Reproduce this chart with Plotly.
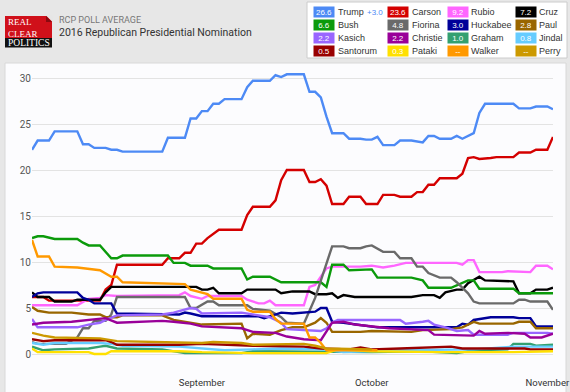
import plotly.graph_objects as go

YEAR = "2015-"

# ---------------- data: (date, value) pairs ----------------
trump = [("08-02",22.2),("08-03",23.2),("08-05",23.2),("08-06",24.2),("08-10",24.2),("08-11",22.8),("08-12",22.8),
         ("08-13",22.4),("08-15",22.4),("08-16",22.2),("08-17",22.2),("08-18",22.0),("08-25",22.0),("08-26",23.5),
         ("08-29",23.5),("08-30",25.6),("08-31",25.6),("09-01",26.4),("09-02",26.4),("09-03",27.2),("09-04",27.2),
         ("09-05",27.7),("09-08",27.7),("09-09",29.0),("09-10",29.7),("09-13",29.7),("09-14",30.3),("09-15",30.1),
         ("09-16",30.4),("09-19",30.4),("09-20",28.5),("09-21",28.5),("09-22",27.9),("09-23",25.8),("09-24",24.0),
         ("09-26",24.0),("09-27",23.4),("09-29",23.4),("09-30",23.3),("10-01",23.3),("10-02",23.6),("10-03",22.7),
         ("10-05",22.7),("10-06",23.2),("10-08",23.2),("10-10",23.0),("10-11",23.7),("10-12",23.7),("10-13",23.4),
         ("10-15",23.4),("10-16",23.7),("10-17",23.4),("10-19",24.0),("10-20",26.2),("10-21",27.2),("10-26",27.2),
         ("10-27",26.7),("10-29",26.7),("10-30",26.9),("11-01",26.9),("11-02",26.6)]
carson = [("08-02",6.2),("08-04",6.2),("08-05",5.8),("08-14",5.8),("08-15",7.0),("08-16",7.5),("08-17",9.7),
          ("08-25",9.7),("08-26",10.4),("08-28",10.4),("08-29",11.0),("08-30",11.0),("08-31",12.0),("09-01",12.0),
          ("09-02",12.6),("09-03",13.1),("09-04",13.5),("09-08",13.5),("09-09",15.1),("09-10",16.0),("09-13",16.0),
          ("09-14",16.7),("09-15",18.9),("09-16",20.0),("09-19",20.0),("09-20",18.7),("09-21",18.7),("09-22",19.0),
          ("09-23",18.3),("09-24",16.3),("09-26",16.3),("09-27",17.1),("09-29",17.1),("09-30",16.3),("10-02",16.3),
          ("10-03",17.3),("10-05",17.3),("10-06",17.1),("10-08",17.1),("10-09",17.6),("10-10",17.6),("10-11",18.4),
          ("10-12",18.4),("10-13",19.1),("10-16",19.1),("10-17",19.6),("10-18",21.3),("10-19",21.4),("10-20",21.2),
          ("10-22",21.3),("10-23",21.4),("10-26",21.4),("10-27",21.9),("10-29",21.9),("10-30",22.2),("11-01",22.2),
          ("11-02",23.6)]
rubio = [("08-02",5.3),("08-10",5.3),("08-12",6.0),("08-14",6.1),("08-15",6.4),("08-17",6.3),("08-28",6.4),
         ("08-29",6.7),("08-30",6.3),("09-01",6.0),("09-02",6.3),("09-08",6.3),("09-09",5.9),("09-11",5.5),
         ("09-12",5.5),("09-13",5.8),("09-14",5.3),("09-19",5.3),("09-20",7.3),("09-21",7.5),("09-22",8.4),
         ("09-23",9.3),("09-24",9.5),("09-29",9.5),("10-01",9.6),("10-03",9.4),("10-05",9.6),("10-07",9.9),
         ("10-16",9.9),("10-17",9.7),("10-18",10.2),("10-19",10.2),("10-20",8.9),("10-24",8.9),("10-25",9.0),
         ("10-29",8.9),("10-30",9.6),("11-01",9.6),("11-02",9.2)]
cruz = [("08-02",6.7),("08-03",6.2),("08-05",6.2),("08-06",5.7),("08-09",5.7),("08-10",5.9),("08-14",5.9),
        ("08-15",6.7),("08-16",7.3),("08-31",7.3),("09-01",7.0),("09-02",7.0),("09-03",7.2),("09-04",6.6),
        ("09-08",6.6),("09-09",7.0),("09-14",7.0),("09-15",6.6),("09-17",6.8),("09-20",6.8),("09-21",6.5),
        ("09-23",6.5),("09-24",6.6),("09-25",6.1),("09-26",6.4),("09-28",6.2),("10-08",6.2),("10-10",6.4),
        ("10-12",6.4),("10-13",6.1),("10-14",6.7),("10-16",7.0),("10-17",7.0),("10-18",7.7),("10-20",8.4),
        ("10-21",8.0),("10-26",7.9),("10-27",6.6),("10-29",6.6),("10-30",7.0),("11-01",7.0),("11-02",7.2)]
bush = [("08-02",12.6),("08-03",12.8),("08-04",12.8),("08-06",12.5),("08-10",12.5),("08-11",12.1),("08-12",11.8),
        ("08-14",11.8),("08-16",10.4),("08-17",10.4),("08-18",10.7),("08-26",10.7),("08-27",9.9),("08-29",9.9),
        ("08-30",9.6),("09-02",9.6),("09-03",9.3),("09-08",9.3),("09-09",8.1),("09-10",8.4),("09-13",8.4),
        ("09-15",7.8),("09-22",7.8),("09-23",7.3),("09-24",9.7),("09-26",9.7),("09-27",9.1),("10-01",9.2),
        ("10-02",8.3),("10-08",8.3),("10-10",8.0),("10-11",7.2),("10-15",7.2),("10-17",7.7),("10-18",8.0),
        ("10-19",8.0),("10-20",7.1),("10-26",7.1),("10-27",6.6),("11-02",6.6)]
fiorina = [("08-02",1.3),("08-03",1.1),("08-08",1.1),("08-10",1.8),("08-11",2.8),("08-12",2.8),("08-13",3.6),
           ("08-15",3.6),("08-16",4.3),("08-17",6.2),("08-29",6.2),("08-30",5.0),("08-31",5.0),("09-02",5.7),
           ("09-03",5.7),("09-04",5.3),("09-09",5.3),("09-10",4.9),("09-13",4.7),("09-15",4.0),("09-16",3.4),
           ("09-19",3.3),("09-21",6.1),("09-23",9.7),("09-24",11.7),("09-26",11.7),("09-27",11.5),("09-29",11.5),
           ("09-30",11.7),("10-01",11.8),("10-03",11.1),("10-05",11.1),("10-06",10.4),("10-08",10.4),("10-09",9.5),
           ("10-10",9.5),("10-11",8.8),("10-13",8.3),("10-15",8.3),("10-16",7.8),("10-18",6.6),("10-19",5.7),
           ("10-20",5.5),("10-26",5.5),("10-27",5.9),("10-28",5.9),("10-29",5.7),("11-01",5.7),("11-02",4.8)]
huckabee = [("08-02",6.2),("08-03",6.6),("08-04",6.7),("08-10",6.7),("08-11",6.1),("08-12",5.9),("08-13",5.5),
            ("08-16",5.5),("08-17",4.4),("08-28",4.3),("08-29",4.5),("08-30",4.4),("09-01",4.1),("09-11",4.1),
            ("09-12",3.9),("09-13",4.1),("09-15",4.5),("09-17",4.4),("09-21",4.6),("09-22",5.0),("09-23",5.0),
            ("09-24",3.5),("09-26",3.4),("10-02",2.9),("10-16",2.9),("10-17",3.3),("10-18",3.2),("10-19",3.7),
            ("10-20",3.8),("10-22",4.0),("10-26",4.0),("10-27",3.9),("10-29",3.9),("10-30",3.0),("11-02",3.0)]
paul = [("08-02",5.1),("08-03",4.7),("08-05",4.5),("08-09",4.5),("08-12",4.3),("08-14",4.3),("08-15",4.0),
        ("08-17",4.0),("08-18",4.2),("08-25",4.2),("08-27",3.7),("08-29",3.5),("08-31",3.3),("09-01",3.2),
        ("09-08",3.3),("09-09",1.7),("09-10",2.2),("09-13",2.1),("09-15",2.6),("09-17",2.9),("09-19",2.9),
        ("09-21",3.4),("09-22",3.9),("09-23",3.4),("09-24",2.4),("09-29",2.4),("10-01",2.5),("10-08",2.4),
        ("10-10",2.6),("10-15",2.7),("10-17",2.9),("10-19",3.5),("10-20",3.3),("10-26",3.3),("10-27",3.5),
        ("10-29",3.5),("10-30",2.8),("11-02",2.8)]
kasich = [("08-02",3.8),("08-03",2.9),("08-10",2.9),("08-12",3.2),("08-14",3.4),("08-15",3.7),("08-17",4.2),
          ("08-25",4.3),("08-27",4.5),("08-30",5.0),("08-31",4.9),("09-01",4.4),("09-08",4.5),("09-10",4.3),
          ("09-13",4.0),("09-15",3.4),("09-16",2.7),("09-22",2.5),("09-23",2.8),("09-24",3.4),("09-25",3.7),
          ("10-06",3.7),("10-07",3.3),("10-10",3.5),("10-11",3.6),("10-12",3.2),("10-14",2.9),("10-16",2.5),
          ("10-18",2.6),("10-19",2.1),("10-25",2.1),("10-26",2.3),("11-01",2.3),("11-02",2.2)]
christie = [("08-02",3.2),("08-04",3.4),("08-09",3.5),("08-12",3.7),("08-15",3.9),("08-17",3.4),("08-25",3.6),
            ("08-27",3.5),("08-30",3.3),("09-01",3.0),("09-08",2.8),("09-10",2.4),("09-14",2.3),("09-16",1.9),
            ("09-19",1.6),("09-22",1.5),("09-23",2.4),("09-24",3.4),("09-26",3.5),("09-28",3.2),("10-04",2.8),
            ("10-11",2.6),("10-12",2.1),("10-19",2.0),("10-20",2.5),("10-21",2.2),("10-25",2.3),("10-28",2.2),
            ("10-29",1.8),("10-31",1.8),("11-02",2.2)]
graham = [("08-02",0.8),("08-04",0.4),("08-06",0.5),("08-12",0.6),("08-14",0.8),("08-15",0.9),("08-17",0.6),
          ("08-25",0.5),("08-29",0.1),("09-08",0.1),("09-10",0.3),("10-01",0.2),("10-10",0.3),("10-16",0.1),
          ("10-19",0.4),("10-25",0.5),("10-26",1.1),("10-29",1.1),("10-30",0.9),("11-02",1.0)]
jindal = [("08-02",1.2),("08-04",1.0),("08-06",1.2),("08-14",1.2),("08-16",1.1),("08-18",0.9),("08-28",0.8),
          ("09-05",0.4),("09-10",0.5),("09-15",0.6),("09-22",0.5),("09-26",0.2),("10-05",0.4),("10-19",0.5),
          ("10-26",0.8),("11-02",0.8)]
santorum = [("08-02",1.6),("08-04",1.4),("08-06",1.5),("08-15",1.5),("08-16",1.3),("08-17",1.0),("08-28",1.0),
            ("09-01",1.1),("09-10",0.9),("09-19",0.8),("09-22",0.6),("09-27",0.5),("09-29",0.7),("10-01",0.5),
            ("10-06",0.6),("10-15",0.8),("10-17",0.6),("10-28",0.6),("10-29",0.5),("11-02",0.5)]
pataki = [("08-02",0.6),("08-03",0.2),("08-12",0.2),("08-13",0.0),("08-15",0.0),("08-16",0.3),("08-28",0.3),
          ("09-01",0.2),("09-10",0.1),("09-23",0.1),("09-25",0.5),("10-01",0.3),("10-13",0.2),("10-26",0.2),
          ("11-02",0.3)]
walker = [("08-02",12.4),("08-03",10.6),("08-05",10.6),("08-06",9.5),("08-10",9.4),("08-14",9.1),("08-16",8.4),
          ("08-17",8.4),("08-18",7.8),("08-29",7.6),("08-30",7.0),("09-02",6.5),("09-03",6.0),("09-08",6.0),
          ("09-09",4.8),("09-10",4.6),("09-13",4.6),("09-14",3.8),("09-15",3.3),("09-19",3.3),("09-20",1.8),
          ("09-21",1.8),("09-22",1.2),("09-23",0.4),("10-02",0.4)]
perry = [("08-02",2.3),("08-04",2.0),("08-06",1.8),("08-14",1.7),("08-17",1.4),("08-28",1.3),("09-01",1.2),
         ("09-03",1.3),("09-08",1.2),("09-10",1.0),("09-19",1.1),("09-21",0.9),("09-23",0.6),("10-01",0.5)]

names = ["Trump","Carson","Rubio","Cruz","Bush","Fiorina","Huckabee","Paul",
         "Kasich","Christie","Graham","Jindal","Santorum","Pataki","Walker","Perry"]
series = [trump, carson, rubio, cruz, bush, fiorina, huckabee, paul,
          kasich, christie, graham, jindal, santorum, pataki, walker, perry]
legend_values = ["26.6","23.6","9.2","7.2","6.6","4.8","3.0","2.8",
                 "2.2","2.2","1.0","0.8","0.5","0.3","--","--"]
trump_spread = "+3.0"
colors = ["#4d8af5","#d40000","#ff66ff","#000000","#0b9a0b","#6a6a6a","#000099","#996600",
          "#9966ff","#990099","#33a070","#66ccff","#990000","#ffe000","#ff9900","#cc9900"]

x_tick_vals = ["2015-09-01","2015-10-01","2015-11-01"]
x_tick_text = ["September","October","November"]
y_tick_vals = [0, 5, 10, 15, 20, 25, 30]

# ---------------- figure ----------------
W_PX, H_PX = 570, 392
L, R, T, B = 32, 17, 68, 22
PW, PH = W_PX - L - R, H_PX - T - B

def fx(px):
    return (px - L) / PW

def fy(py):
    return (H_PX - B - py) / PH

fig = go.Figure()
for name, data, col in zip(names, series, colors):
    fig.add_trace(go.Scatter(
        x=[YEAR + d for d, _ in data], y=[v for _, v in data],
        mode="lines", name=name, line=dict(color=col, width=2.4),
        hovertemplate=name + ": %{y}<extra></extra>"))

shapes = []
annotations = []

# white chart panel
shapes.append(dict(type="rect", xref="paper", yref="paper", x0=fx(5), x1=fx(566), y0=fy(393), y1=fy(63),
                   fillcolor="#fcfcfe", line=dict(color="#d8d8d8", width=1), layer="below"))

# logo
shapes.append(dict(type="rect", xref="paper", yref="paper", x0=fx(5), x1=fx(52), y0=fy(38), y1=fy(16),
                   fillcolor="#d0101a", line=dict(width=0)))
shapes.append(dict(type="rect", xref="paper", yref="paper", x0=fx(5), x1=fx(52), y0=fy(47.5), y1=fy(38),
                   fillcolor="#111111", line=dict(width=0)))
shapes.append(dict(type="path", xref="paper", yref="paper",
                   path=f"M {fx(46)} {fy(15.5)} L {fx(52.5)} {fy(15.5)} L {fx(52.5)} {fy(22)} Z",
                   fillcolor="#e6e6e6", line=dict(width=0)))
shapes.append(dict(type="path", xref="paper", yref="paper",
                   path=f"M {fx(46)} {fy(16)} L {fx(52)} {fy(22)} L {fx(46)} {fy(22)} Z",
                   fillcolor="#8a0a10", line=dict(width=0)))
serif = "Liberation Serif, DejaVu Serif, serif"
annotations += [
    dict(text="REAL<br>CLEAR", x=fx(6), y=fy(27.5), xanchor="left", yanchor="middle", align="left",
         font=dict(family=serif, size=9, color="white")),
    dict(text="POLITICS", x=fx(5.5), y=fy(43), xanchor="left", yanchor="middle",
         font=dict(family=serif, size=9.5, color="white")),
    dict(text="RCP POLL AVERAGE", x=fx(57), y=fy(20), xanchor="left", yanchor="middle",
         font=dict(family="Roboto, sans-serif", size=9, color="#777777")),
    dict(text="2016 Republican Presidential Nomination", x=fx(57), y=fy(33), xanchor="left", yanchor="middle",
         font=dict(family="Roboto, sans-serif", size=10.5, color="#333333")),
]

# legend box
shapes.append(dict(type="rect", xref="paper", yref="paper", x0=fx(307), x1=fx(567), y0=fy(58), y1=fy(2),
                   fillcolor="white", line=dict(color="#cccccc", width=1)))
col_box_x = [313, 387, 447, 515]
col_name_x = [336, 410, 469, 537]
row_y = [12.5, 25, 37.5, 50.5]
for i, (name, val, col) in enumerate(zip(names, legend_values, colors)):
    r, c = divmod(i, 4)
    annotations.append(dict(text=val, x=fx(col_box_x[c]), y=fy(row_y[r]), xanchor="left", yanchor="middle",
                            width=20, height=10, borderpad=0, bgcolor=col, align="center",
                            font=dict(family="Liberation Sans, Arial, sans-serif", size=8, color="white")))
    annotations.append(dict(text=name, x=fx(col_name_x[c]), y=fy(row_y[r]), xanchor="left", yanchor="middle",
                            font=dict(family="Liberation Sans, Arial, sans-serif", size=9, color="#333333")))
annotations.append(dict(text=trump_spread, x=fx(365), y=fy(12.5), xanchor="left", yanchor="middle",
                        font=dict(family="Liberation Sans, Arial, sans-serif", size=8, color="#4d8af5")))

for a in annotations:
    a.setdefault("xref", "paper")
    a.setdefault("yref", "paper")
    a.setdefault("showarrow", False)

y_top = 30 + (78 - T) / 9.2
y_bot = 0 - (H_PX - B - 354) / 9.2

fig.update_layout(
    width=W_PX, height=H_PX,
    margin=dict(l=L, r=R, t=T, b=B, pad=0, autoexpand=False),
    paper_bgcolor="#e7e7e7",
    plot_bgcolor="rgba(0,0,0,0)",
    showlegend=False,
    shapes=shapes,
    annotations=annotations,
    xaxis=dict(type="date", range=["2015-08-02", "2015-11-02"], tickvals=x_tick_vals, ticktext=x_tick_text,
               showgrid=False, zeroline=False, showline=False, ticks="", ticklabelstandoff=5,
               ticklabeloverflow="allow", automargin=False,
               tickfont=dict(family="Roboto, sans-serif", size=9.5, color="#333333")),
    yaxis=dict(range=[y_bot, y_top], tickvals=y_tick_vals, showgrid=True, gridcolor="#e3e3e3", gridwidth=1,
               zeroline=False, showline=False, ticks="", automargin=False,
               tickfont=dict(family="Roboto, sans-serif", size=10, color="#555555")),
)

fig.write_html("out.html", config={"displayModeBar": False},
               post_script="document.body.style.margin='0';document.body.style.overflow='hidden';")
